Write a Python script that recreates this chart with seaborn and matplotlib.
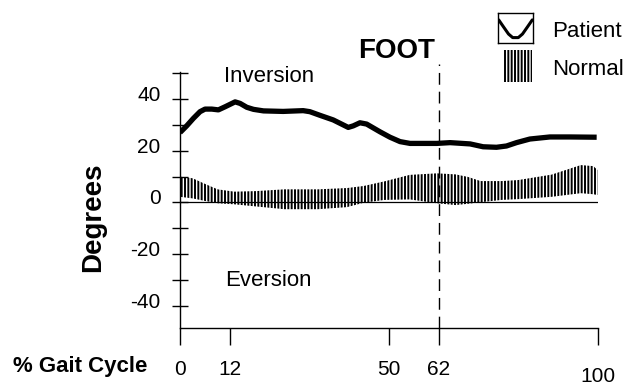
import numpy as np
import matplotlib
matplotlib.use("Agg")
import matplotlib.pyplot as plt
import matplotlib.transforms as mtransforms
from matplotlib.patches import Rectangle
import seaborn as sns

# patient curve (% gait cycle, degrees)
patient_pct = [0, 1.6, 3.2, 4.8, 6.0, 7.6, 9.2, 10.8, 13.2, 14.4, 16.0, 17.6, 20.0,
               24.7, 29.5, 31.1, 33.5, 36.7, 40.3, 41.5, 43.1, 44.7, 47.9, 50.3,
               52.7, 55.1, 61.5, 64.7, 69.5, 72.6, 75.8, 78.2, 80.6, 83.8, 88.6,
               93.4, 99.8]
patient_deg = [27.1, 29.7, 32.6, 35.2, 36.2, 36.2, 35.9, 37.1, 39.0, 38.4, 36.9, 36.1,
               35.5, 35.3, 35.6, 35.2, 33.8, 32.0, 29.1, 29.7, 30.9, 30.4, 27.4, 25.3,
               23.6, 22.9, 22.9, 23.2, 22.7, 21.6, 21.4, 21.9, 23.2, 24.6, 25.4,
               25.4, 25.3]

# normal band
normal_pct = [0, 3, 6, 9, 13, 18, 25, 33, 40, 44, 49, 55, 61.5, 66, 69, 72, 77, 81,
              89, 96, 99, 100]
normal_hi = [10.0, 9.4, 7.2, 5.1, 4.2, 4.4, 5.1, 5.1, 5.6, 6.4, 8.2, 10.7, 11.3, 10.9,
             9.9, 8.3, 8.3, 8.7, 10.8, 14.5, 14.1, 12.6]
normal_lo = [2.2, 1.6, 0.6, -0.3, -0.7, -1.5, -2.6, -2.6, -1.8, -0.1, 1.0, 1.2, -0.3,
             -1.0, -0.5, 0.1, 1.0, 1.3, 2.2, 3.6, 3.2, 2.9]

x_ticks = [0, 12, 50, 62, 100]
y_ticks = [-40, -30, -20, -10, 0, 10, 20, 30, 40, 50]
y_labels = ["-40", "", "-20", "", "0", "", "20", "", "40", ""]
toe_off = 62

sns.set_theme(style="white")
plt.rcParams["font.family"] = ["Liberation Sans", "DejaVu Sans"]
plt.rcParams["hatch.linewidth"] = 1.4
for k in ("text.color", "axes.labelcolor", "xtick.color", "ytick.color"):
    plt.rcParams[k] = "black"

W, H = 623, 385
fig = plt.figure(figsize=(W / 100, H / 100), dpi=100)
ax = fig.add_axes([180 / W, 1 - 328.3 / H, 417.5 / W, 256.1 / H])

ax.fill_between(normal_pct, normal_lo, normal_hi, facecolor="none",
                edgecolor="black", linewidth=0, hatch="|||||")
sns.lineplot(x=patient_pct, y=patient_deg, color="black", linewidth=3.8, ax=ax,
             solid_joinstyle="round", solid_capstyle="butt")
ax.axhline(0, color="black", linewidth=0.9)
ax.vlines(toe_off, -48.76, 53.5, colors="black", linewidth=1.0,
          linestyles=(0, (8.5, 5)), clip_on=False)

ax.set_xlim(0, 100)
ax.set_ylim(-48.76, 50.5)
sns.despine(ax=ax)
for s in ("left", "bottom"):
    ax.spines[s].set_linewidth(1.0)
    ax.spines[s].set_color("black")

ax.set_xticks(x_ticks)
ax.set_xticklabels([str(v) for v in x_ticks])
ax.tick_params(axis="x", direction="out", length=12, width=1.0, pad=11,
               labelsize=15, color="black", bottom=True)
ax.set_yticks(y_ticks)
ax.set_yticklabels(y_labels)
ax.tick_params(axis="y", direction="inout", length=12, width=1.0, pad=8,
               labelsize=15, color="black", left=True)

up = mtransforms.ScaledTranslation(0, 4 / 72, fig.dpi_scale_trans)
for lab in ax.get_yticklabels():
    lab.set_transform(lab.get_transform() + up)
down = mtransforms.ScaledTranslation(0, -5 / 72, fig.dpi_scale_trans)
lab100 = ax.get_xticklabels()[-1]
lab100.set_transform(lab100.get_transform() + down)

ax.set_xlabel("")
ax.set_ylabel("")

ax.text(10.5, 46.8, "Inversion", fontsize=16, va="baseline", ha="left")
ax.text(10.8, -32.4, "Eversion", fontsize=16, va="baseline", ha="left")

fig.text(93 / W, 1 - 217 / H, "Degrees", rotation=90, fontsize=20,
         fontweight="bold", ha="center", va="center")
fig.text(13 / W, 1 - 371.7 / H, "% Gait Cycle", fontsize=16, fontweight="bold",
         ha="left", va="baseline")
fig.text(358 / W, 1 - 58.3 / H, "FOOT", fontsize=20, fontweight="bold",
         ha="left", va="baseline")

# legend
icon = fig.add_axes([498 / W, 1 - 43 / H, 35 / W, 30 / H])
icon.plot([0.02, 0.15, 0.3, 0.42, 0.58, 0.7, 0.85, 0.98],
          [0.77, 0.55, 0.3, 0.18, 0.18, 0.3, 0.55, 0.77],
          color="black", linewidth=2.2, solid_joinstyle="round")
icon.set_xlim(0, 1)
icon.set_ylim(0, 1)
icon.set_xticks([])
icon.set_yticks([])
for s in icon.spines.values():
    s.set_visible(True)
    s.set_color("black")
    s.set_linewidth(1.0)

fig.add_artist(Rectangle((503 / W, 1 - 82 / H), 29 / W, 32 / H,
                         transform=fig.transFigure, facecolor="none",
                         edgecolor="black", linewidth=0, hatch="|||||"))
fig.text(551.7 / W, 1 - 36.7 / H, "Patient", fontsize=16, va="baseline")
fig.text(551.7 / W, 1 - 75 / H, "Normal", fontsize=16, va="baseline")

fig.savefig("out.png", dpi=100)
